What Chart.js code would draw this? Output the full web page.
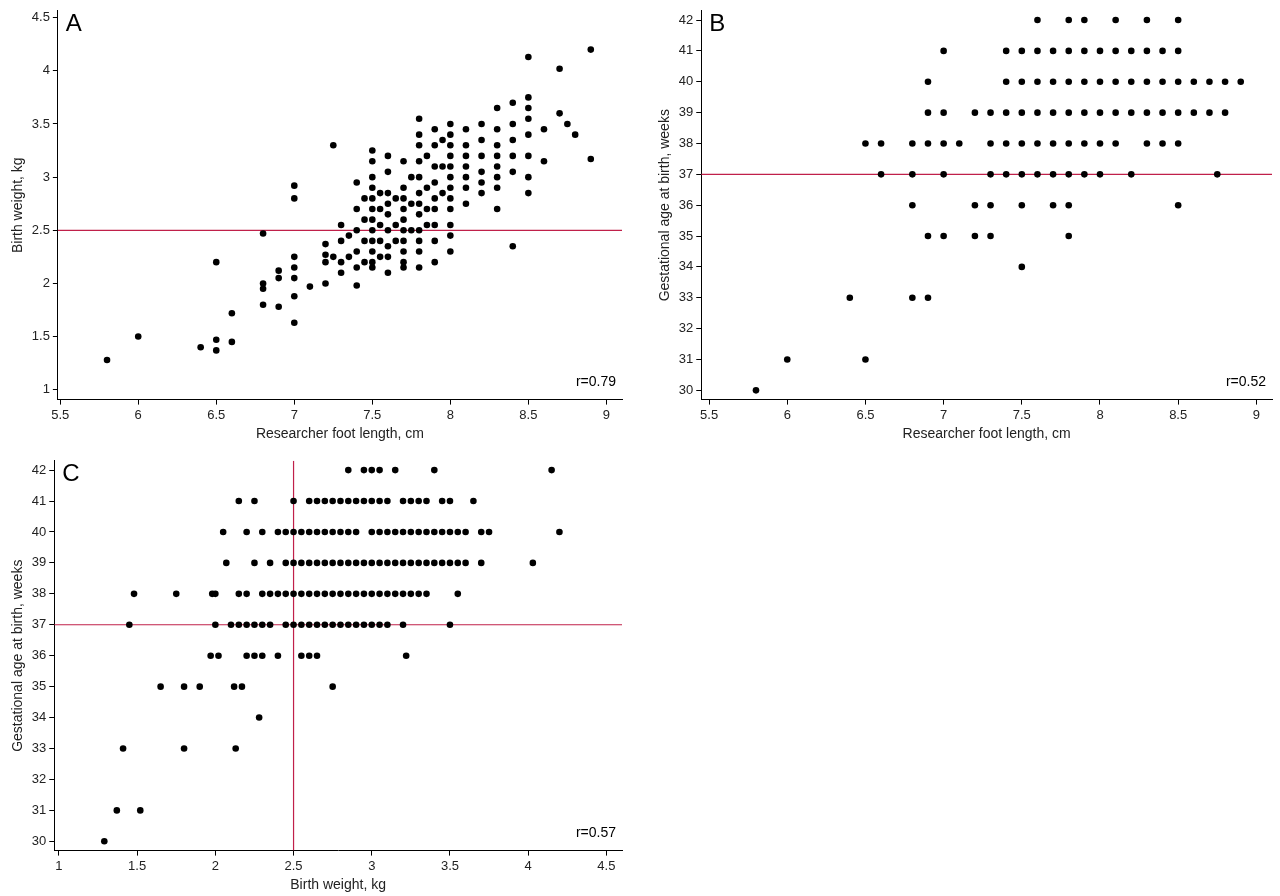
<!DOCTYPE html>
<html><head><meta charset="utf-8">
<script src="https://cdn.jsdelivr.net/npm/chart.js@4/dist/chart.umd.min.js"></script>
<style>body{margin:0;background:#fff;width:1280px;height:896px;position:relative;overflow:hidden}
.c{position:absolute}</style></head><body>
<div class="c" style="left:0;top:0;width:630px;height:445px"><canvas id="a"></canvas></div>
<div class="c" style="left:645px;top:0;width:635px;height:445px"><canvas id="b"></canvas></div>
<div class="c" style="left:0;top:450px;width:630px;height:446px"><canvas id="c"></canvas></div>
<script>
// Panel A: foot length (x) -> list of birth weights (kg)
const footA = [5.8,6.0,6.4,6.5,6.6,6.8,6.9,7.0,7.1,7.2,7.25,7.3,7.35,7.4,7.45,7.5,7.55,7.6,7.65,7.7,7.75,7.8,7.85,7.9,7.95,8.0,8.1,8.2,8.3,8.4,8.5,8.6,8.7,8.75,8.8,8.9];
const weightA = [[1.28],[1.5],[1.4],[2.2,1.47,1.37],[1.72,1.45],[2.47,2.0,1.95,1.8],[2.12,2.05,1.78],
[2.92,2.8,2.25,2.15,2.05,1.88,1.63],[1.97],[2.37,2.27,2.2,2.0],[3.3,2.25],[2.55,2.4,2.2,2.1],[2.45,2.25],
[2.95,2.7,2.5,2.3,2.15,1.98],[2.8,2.6,2.4,2.2],[3.25,3.15,3.0,2.9,2.8,2.7,2.6,2.5,2.4,2.3,2.2,2.15],
[2.85,2.7,2.55,2.4,2.25],[3.2,3.05,2.85,2.75,2.65,2.5,2.35,2.25,2.1],[2.8,2.55,2.4],
[3.15,2.9,2.8,2.7,2.6,2.5,2.4,2.3,2.2,2.15],[3.0,2.75,2.5],[3.55,3.4,3.3,3.15,3.0,2.85,2.75,2.65,2.5,2.4,2.3,2.15],
[3.2,2.9,2.7,2.55],[3.45,3.3,3.1,2.95,2.8,2.7,2.55,2.4,2.2],[3.35,3.1,2.85],
[3.5,3.4,3.3,3.2,3.1,3.0,2.9,2.8,2.7,2.55,2.45,2.3],[3.45,3.3,3.2,3.1,3.0,2.9,2.75],
[3.5,3.35,3.2,3.05,2.95,2.85],[3.65,3.45,3.3,3.2,3.1,3.0,2.9,2.7],[3.7,3.5,3.35,3.2,3.05,2.35],
[4.13,3.75,3.65,3.55,3.4,3.2,3.0,2.85],[3.45,3.15],[4.02,3.6],[3.5],[3.4],[4.2,3.17]];
// Panel B: gestational week -> list of foot lengths
const weeksB = [42,41,40,39,38,37,36,35,34,33,31,30];
const footB = [[7.6,7.8,7.9,8.1,8.3,8.5],
[7.0,7.4,7.5,7.6,7.7,7.8,7.9,8.0,8.1,8.2,8.3,8.4,8.5],
[6.9,7.4,7.5,7.6,7.7,7.8,7.9,8.0,8.1,8.2,8.3,8.4,8.5,8.6,8.7,8.8,8.9],
[6.9,7.0,7.2,7.3,7.4,7.5,7.6,7.7,7.8,7.9,8.0,8.1,8.2,8.3,8.4,8.5,8.6,8.7,8.8],
[6.5,6.6,6.8,6.9,7.0,7.1,7.3,7.4,7.5,7.6,7.7,7.8,7.9,8.0,8.1,8.3,8.4,8.5],
[6.6,6.8,7.0,7.3,7.4,7.5,7.6,7.7,7.8,7.9,8.0,8.2,8.75],
[6.8,7.2,7.3,7.5,7.7,7.8,8.5],[6.9,7.0,7.2,7.3,7.8],[7.5],[6.4,6.8,6.9],[6.0,6.5],[5.8]];
// Panel C: gestational week -> list of birth weights
const weeksC = [42,41,40,39,38,37,36,35,34,33,31,30];
const weightC = [[2.85,2.95,3.0,3.05,3.15,3.4,4.15],
[2.15,2.25,2.5,2.6,2.65,2.7,2.75,2.8,2.85,2.9,2.95,3.0,3.05,3.1,3.2,3.25,3.3,3.35,3.45,3.5,3.65],
[2.05,2.2,2.3,2.4,2.45,2.5,2.55,2.6,2.65,2.7,2.75,2.8,2.85,2.9,3.0,3.05,3.1,3.15,3.2,3.25,3.3,3.35,3.4,3.45,3.5,3.55,3.6,3.7,3.75,4.2],
[2.07,2.25,2.35,2.45,2.5,2.55,2.6,2.65,2.7,2.75,2.8,2.85,2.9,2.95,3.0,3.05,3.1,3.15,3.2,3.25,3.3,3.35,3.4,3.45,3.5,3.55,3.6,3.7,4.03],
[1.48,1.75,1.98,2.0,2.15,2.2,2.3,2.35,2.4,2.45,2.5,2.55,2.6,2.65,2.7,2.75,2.8,2.85,2.9,2.95,3.0,3.05,3.1,3.15,3.2,3.25,3.3,3.35,3.55],
[1.45,2.0,2.1,2.15,2.2,2.25,2.3,2.35,2.45,2.5,2.55,2.6,2.65,2.7,2.75,2.8,2.85,2.9,2.95,3.0,3.05,3.1,3.2,3.5],
[1.97,2.02,2.2,2.25,2.3,2.4,2.55,2.6,2.65,3.22],[1.65,1.8,1.9,2.12,2.17,2.75],[2.28],[1.41,1.8,2.13],[1.37,1.52],[1.29]];
const xTicksFoot=[5.5,6,6.5,7,7.5,8,8.5,9];
const yTicksWeight=[1,1.5,2,2.5,3,3.5,4,4.5];
const yTicksWeeks=[30,31,32,33,34,35,36,37,38,39,40,41,42];
const xTicksWeight=[1,1.5,2,2.5,3,3.5,4,4.5];
const refWeight=2.5, refWeeks=37;
const rA='r=0.79', rB='r=0.52', rC='r=0.57';

Chart.defaults.font.family='"Liberation Sans", Arial, sans-serif';
Chart.defaults.color='#222';
function flatXY(keys, lists, keyIsX){const out=[];keys.forEach((k,i)=>lists[i].forEach(v=>out.push(keyIsX?{x:k,y:v}:{x:v,y:k})));return out;}
function axis(min,max,ticks,title,isX){
 return {type:'linear',min,max,afterBuildTicks:s=>{s.ticks=ticks.map(v=>({value:v}));},
  ticks:{font:{size:13},color:'#222',padding:3,autoSkip:false,callback:v=>String(v),maxRotation:0},
  grid:{drawOnChartArea:false,drawTicks:true,tickLength:5,color:'#000'},
  border:{display:true,color:'#000',width:1},
  title:{display:true,text:title,font:{size:14},padding:{top:0,bottom:isX?0:2}}};
}
function labels(letter,r){return {id:'lbl',afterDraw(ch){const c=ch.ctx,a=ch.chartArea;c.save();c.fillStyle='#000';
 c.font='24px "Liberation Sans", Arial';c.textBaseline='top';c.fillText(letter,a.left+8,a.top+2);
 c.font='14px "Liberation Sans", Arial';c.textAlign='right';c.textBaseline='bottom';c.fillText(r,a.right-6,a.bottom-10);c.restore();}};}
function make(id,pts,lines,xs,ys,letter,r,padL){
 const ds=[{type:'scatter',data:pts,pointRadius:3.3,pointBackgroundColor:'#000',pointBorderWidth:0,order:1}];
 lines.forEach(l=>ds.push({type:'line',data:l,borderColor:'#c0204a',borderWidth:1.2,pointRadius:0,order:2}));
 new Chart(document.getElementById(id),{type:'scatter',data:{datasets:ds},
  options:{responsive:true,maintainAspectRatio:false,animation:false,
   layout:{padding:{top:4,right:8,left:padL,bottom:2}},
   plugins:{legend:{display:false},tooltip:{enabled:false}},scales:{x:xs,y:ys}},plugins:[labels(letter,r)]});
}
make('a',flatXY(footA,weightA,true),[[{x:5.485,y:refWeight},{x:9.1,y:refWeight}]],
 axis(5.485,9.1,xTicksFoot,'Researcher foot length, cm',true),axis(0.907,4.565,yTicksWeight,'Birth weight, kg'),'A',rA,10);
make('b',flatXY(weeksB,footB,false),[[{x:5.45,y:refWeeks},{x:9.1,y:refWeeks}]],
 axis(5.45,9.1,xTicksFoot,'Researcher foot length, cm',true),axis(29.7,42.3,yTicksWeeks,'Gestational age at birth, weeks'),'B',rB,12);
make('c',flatXY(weeksC,weightC,false),[[{x:0.97,y:refWeeks},{x:4.6,y:refWeeks}],[{x:refWeight,y:29.7},{x:refWeight,y:42.3}]],
 axis(0.97,4.6,xTicksWeight,'Birth weight, kg',true),axis(29.7,42.3,yTicksWeeks,'Gestational age at birth, weeks'),'C',rC,10);
</script></body></html>
